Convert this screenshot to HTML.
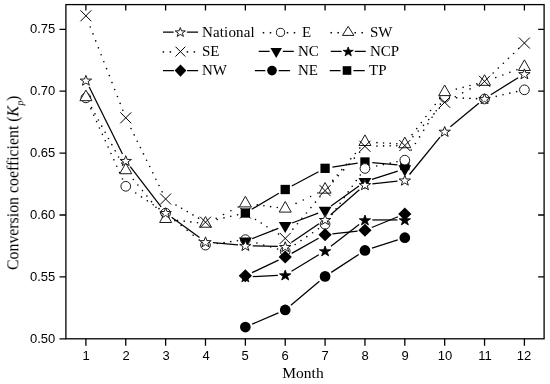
<!DOCTYPE html>
<html><head><meta charset="utf-8"><title>Chart</title>
<style>
html,body{margin:0;padding:0;background:#fff;}
body{width:550px;height:384px;position:relative;overflow:hidden;font-family:"Liberation Sans",sans-serif;color:#000;}
.yt,.xt,.lg,.xl{will-change:transform;}
.yt{position:absolute;left:0;width:55.3px;text-align:right;font-size:13px;line-height:16px;height:16px;color:#000;}
.xt{position:absolute;top:347.6px;width:40px;text-align:center;font-size:13px;line-height:16px;height:16px;color:#000;}
.lg{position:absolute;font-family:"Liberation Serif",serif;font-size:15px;line-height:17px;white-space:nowrap;color:#000;}
.xl{position:absolute;left:263.4px;width:80px;text-align:center;top:364.3px;font-family:"Liberation Serif",serif;font-size:15.5px;line-height:17px;color:#000;}
.yl{position:absolute;left:17.5px;top:269.7px;width:0;height:0;transform-origin:0 0;transform:rotate(-90deg) scale(1.002,1.11);}
.yl span.t{position:absolute;left:0;top:-15.33px;font-family:"Liberation Serif",serif;font-size:15.8px;line-height:20px;white-space:nowrap;color:#000;}
.yl .sub{font-style:italic;font-size:9.8px;position:relative;top:5.2px;left:0.3px;}
</style></head><body>
<svg width="550" height="384" viewBox="0 0 550 384" style="position:absolute;left:0;top:0">
<rect x="0" y="0" width="550" height="384" fill="#fff"/>
<g>
<line x1="251.73" y1="209.26" x2="278.85" y2="193.26" stroke="#000" stroke-width="1.25"/>
<line x1="291.76" y1="186.03" x2="318.55" y2="171.80" stroke="#000" stroke-width="1.25"/>
<line x1="332.39" y1="167.17" x2="357.64" y2="163.17" stroke="#000" stroke-width="1.25"/>
<line x1="372.32" y1="162.65" x2="397.44" y2="164.84" stroke="#000" stroke-width="1.25"/>
<rect x="240.71" y="208.37" width="9.30" height="9.30" fill="#000"/>
<rect x="280.57" y="184.85" width="9.30" height="9.30" fill="#000"/>
<rect x="320.43" y="163.68" width="9.30" height="9.30" fill="#000"/>
<rect x="360.30" y="157.36" width="9.30" height="9.30" fill="#000"/>
<rect x="400.16" y="160.83" width="9.30" height="9.30" fill="#000"/>
</g>
<g>
<line x1="252.16" y1="324.12" x2="278.42" y2="312.87" stroke="#000" stroke-width="1.25"/>
<line x1="290.88" y1="305.19" x2="319.42" y2="281.17" stroke="#000" stroke-width="1.25"/>
<line x1="331.28" y1="272.36" x2="358.75" y2="254.45" stroke="#000" stroke-width="1.25"/>
<line x1="372.00" y1="248.15" x2="397.76" y2="239.91" stroke="#000" stroke-width="1.25"/>
<circle cx="245.36" cy="327.04" r="5.35" fill="#000"/>
<circle cx="285.22" cy="309.95" r="5.35" fill="#000"/>
<circle cx="325.08" cy="276.40" r="5.35" fill="#000"/>
<circle cx="364.95" cy="250.41" r="5.35" fill="#000"/>
<circle cx="404.81" cy="237.66" r="5.35" fill="#000"/>
</g>
<g>
<circle cx="90.83" cy="108.82" r="0.82"/><circle cx="93.71" cy="115.20" r="0.82"/><circle cx="96.59" cy="121.58" r="0.82"/><circle cx="99.46" cy="127.96" r="0.82"/><circle cx="102.34" cy="134.34" r="0.82"/><circle cx="105.22" cy="140.72" r="0.82"/><circle cx="108.09" cy="147.09" r="0.82"/><circle cx="110.97" cy="153.47" r="0.82"/><circle cx="113.85" cy="159.85" r="0.82"/><circle cx="116.72" cy="166.23" r="0.82"/><circle cx="119.60" cy="172.61" r="0.82"/><circle cx="122.48" cy="178.99" r="0.82"/>
<circle cx="135.72" cy="192.98" r="0.82"/><circle cx="141.53" cy="196.91" r="0.82"/><circle cx="147.35" cy="200.83" r="0.82"/><circle cx="153.17" cy="204.75" r="0.82"/><circle cx="158.99" cy="208.67" r="0.82"/>
<circle cx="174.99" cy="220.65" r="0.82"/><circle cx="181.06" cy="225.51" r="0.82"/><circle cx="187.12" cy="230.36" r="0.82"/><circle cx="193.18" cy="235.22" r="0.82"/><circle cx="199.25" cy="240.08" r="0.82"/>
<circle cx="217.38" cy="243.46" r="0.82"/><circle cx="224.06" cy="242.55" r="0.82"/><circle cx="230.75" cy="241.63" r="0.82"/><circle cx="237.43" cy="240.72" r="0.82"/>
<circle cx="256.88" cy="243.00" r="0.82"/><circle cx="263.76" cy="245.01" r="0.82"/><circle cx="270.65" cy="247.02" r="0.82"/><circle cx="277.54" cy="249.03" r="0.82"/>
<circle cx="295.16" cy="244.55" r="0.82"/><circle cx="300.98" cy="240.60" r="0.82"/><circle cx="306.81" cy="236.66" r="0.82"/><circle cx="312.63" cy="232.71" r="0.82"/><circle cx="318.46" cy="228.77" r="0.82"/>
<circle cx="332.06" cy="214.52" r="0.82"/><circle cx="336.09" cy="208.87" r="0.82"/><circle cx="340.13" cy="203.22" r="0.82"/><circle cx="344.16" cy="197.57" r="0.82"/><circle cx="348.20" cy="191.91" r="0.82"/><circle cx="352.23" cy="186.26" r="0.82"/><circle cx="356.26" cy="180.61" r="0.82"/><circle cx="360.30" cy="174.96" r="0.82"/>
<circle cx="376.70" cy="166.01" r="0.82"/><circle cx="383.46" cy="164.60" r="0.82"/><circle cx="390.22" cy="163.19" r="0.82"/><circle cx="396.98" cy="161.79" r="0.82"/>
<circle cx="411.25" cy="150.03" r="0.82"/><circle cx="415.41" cy="143.47" r="0.82"/><circle cx="419.57" cy="136.92" r="0.82"/><circle cx="423.73" cy="130.36" r="0.82"/><circle cx="427.90" cy="123.81" r="0.82"/><circle cx="432.06" cy="117.25" r="0.82"/><circle cx="436.22" cy="110.70" r="0.82"/><circle cx="440.39" cy="104.14" r="0.82"/>
<circle cx="456.67" cy="97.87" r="0.82"/><circle cx="463.29" cy="98.14" r="0.82"/><circle cx="469.92" cy="98.41" r="0.82"/><circle cx="476.55" cy="98.68" r="0.82"/>
<circle cx="496.24" cy="96.31" r="0.82"/><circle cx="503.03" cy="94.75" r="0.82"/><circle cx="509.82" cy="93.19" r="0.82"/><circle cx="516.61" cy="91.63" r="0.82"/>
<circle cx="85.90" cy="97.89" r="4.85" fill="#fff" stroke="#1a1a1a" stroke-width="1.00"/>
<circle cx="125.76" cy="186.28" r="4.85" fill="#fff" stroke="#1a1a1a" stroke-width="1.00"/>
<circle cx="165.63" cy="213.14" r="4.85" fill="#fff" stroke="#1a1a1a" stroke-width="1.00"/>
<circle cx="205.49" cy="245.08" r="4.85" fill="#fff" stroke="#1a1a1a" stroke-width="1.00"/>
<circle cx="245.36" cy="239.64" r="4.85" fill="#fff" stroke="#1a1a1a" stroke-width="1.00"/>
<circle cx="285.22" cy="251.27" r="4.85" fill="#fff" stroke="#1a1a1a" stroke-width="1.00"/>
<circle cx="325.08" cy="224.28" r="4.85" fill="#fff" stroke="#1a1a1a" stroke-width="1.00"/>
<circle cx="364.95" cy="168.45" r="4.85" fill="#fff" stroke="#1a1a1a" stroke-width="1.00"/>
<circle cx="404.81" cy="160.16" r="4.85" fill="#fff" stroke="#1a1a1a" stroke-width="1.00"/>
<circle cx="444.68" cy="97.39" r="4.85" fill="#fff" stroke="#1a1a1a" stroke-width="1.00"/>
<circle cx="484.54" cy="99.00" r="4.85" fill="#fff" stroke="#1a1a1a" stroke-width="1.00"/>
<circle cx="524.40" cy="89.84" r="4.85" fill="#fff" stroke="#1a1a1a" stroke-width="1.00"/>
</g>
<g>
<circle cx="91.65" cy="107.68" r="0.82"/><circle cx="95.01" cy="113.84" r="0.82"/><circle cx="98.38" cy="120.01" r="0.82"/><circle cx="101.74" cy="126.17" r="0.82"/><circle cx="105.11" cy="132.34" r="0.82"/><circle cx="108.47" cy="138.50" r="0.82"/><circle cx="111.84" cy="144.67" r="0.82"/><circle cx="115.20" cy="150.83" r="0.82"/><circle cx="118.57" cy="157.00" r="0.82"/><circle cx="121.93" cy="163.16" r="0.82"/>
<circle cx="133.36" cy="179.48" r="0.82"/><circle cx="137.89" cy="185.02" r="0.82"/><circle cx="142.43" cy="190.57" r="0.82"/><circle cx="146.96" cy="196.12" r="0.82"/><circle cx="151.50" cy="201.67" r="0.82"/><circle cx="156.03" cy="207.22" r="0.82"/><circle cx="160.57" cy="212.77" r="0.82"/>
<circle cx="177.55" cy="220.37" r="0.82"/><circle cx="184.21" cy="221.15" r="0.82"/><circle cx="190.88" cy="221.94" r="0.82"/><circle cx="197.55" cy="222.73" r="0.82"/>
<circle cx="216.19" cy="218.22" r="0.82"/><circle cx="223.53" cy="214.48" r="0.82"/><circle cx="230.88" cy="210.74" r="0.82"/><circle cx="238.23" cy="206.99" r="0.82"/>
<circle cx="257.26" cy="204.91" r="0.82"/><circle cx="263.93" cy="205.79" r="0.82"/><circle cx="270.61" cy="206.66" r="0.82"/><circle cx="277.29" cy="207.53" r="0.82"/>
<circle cx="296.06" cy="203.41" r="0.82"/><circle cx="303.33" cy="199.96" r="0.82"/><circle cx="310.59" cy="196.51" r="0.82"/><circle cx="317.86" cy="193.05" r="0.82"/>
<circle cx="332.78" cy="180.42" r="0.82"/><circle cx="337.29" cy="175.03" r="0.82"/><circle cx="341.79" cy="169.64" r="0.82"/><circle cx="346.30" cy="164.26" r="0.82"/><circle cx="350.80" cy="158.87" r="0.82"/><circle cx="355.31" cy="153.48" r="0.82"/><circle cx="359.82" cy="148.09" r="0.82"/>
<circle cx="376.93" cy="142.63" r="0.82"/><circle cx="383.56" cy="143.00" r="0.82"/><circle cx="390.19" cy="143.37" r="0.82"/><circle cx="396.82" cy="143.74" r="0.82"/>
<circle cx="412.10" cy="134.65" r="0.82"/><circle cx="416.72" cy="128.62" r="0.82"/><circle cx="421.34" cy="122.58" r="0.82"/><circle cx="425.96" cy="116.54" r="0.82"/><circle cx="430.58" cy="110.50" r="0.82"/><circle cx="435.20" cy="104.46" r="0.82"/><circle cx="439.82" cy="98.42" r="0.82"/>
<circle cx="456.30" cy="89.07" r="0.82"/><circle cx="463.13" cy="87.31" r="0.82"/><circle cx="469.96" cy="85.55" r="0.82"/><circle cx="476.79" cy="83.79" r="0.82"/>
<circle cx="495.78" cy="77.60" r="0.82"/><circle cx="502.83" cy="74.98" r="0.82"/><circle cx="509.87" cy="72.35" r="0.82"/><circle cx="516.91" cy="69.73" r="0.82"/>
<polygon points="85.90,90.08 91.90,100.68 79.90,100.68" fill="#fff" stroke="#1a1a1a" stroke-width="1.00"/>
<polygon points="125.76,163.12 131.76,173.72 119.76,173.72" fill="#fff" stroke="#1a1a1a" stroke-width="1.00"/>
<polygon points="165.63,211.89 171.63,222.49 159.63,222.49" fill="#fff" stroke="#1a1a1a" stroke-width="1.00"/>
<polygon points="205.49,216.60 211.49,227.20 199.49,227.20" fill="#fff" stroke="#1a1a1a" stroke-width="1.00"/>
<polygon points="245.36,196.30 251.36,206.90 239.36,206.90" fill="#fff" stroke="#1a1a1a" stroke-width="1.00"/>
<polygon points="285.22,201.50 291.22,212.10 279.22,212.10" fill="#fff" stroke="#1a1a1a" stroke-width="1.00"/>
<polygon points="325.08,182.55 331.08,193.15 319.08,193.15" fill="#fff" stroke="#1a1a1a" stroke-width="1.00"/>
<polygon points="364.95,134.89 370.95,145.49 358.95,145.49" fill="#fff" stroke="#1a1a1a" stroke-width="1.00"/>
<polygon points="404.81,137.12 410.81,147.72 398.81,147.72" fill="#fff" stroke="#1a1a1a" stroke-width="1.00"/>
<polygon points="444.68,85.00 450.68,95.60 438.68,95.60" fill="#fff" stroke="#1a1a1a" stroke-width="1.00"/>
<polygon points="484.54,74.72 490.54,85.32 478.54,85.32" fill="#fff" stroke="#1a1a1a" stroke-width="1.00"/>
<polygon points="524.40,59.87 530.40,70.47 518.40,70.47" fill="#fff" stroke="#1a1a1a" stroke-width="1.00"/>
</g>
<g>
<circle cx="90.27" cy="26.98" r="0.82"/><circle cx="92.98" cy="33.93" r="0.82"/><circle cx="95.70" cy="40.88" r="0.82"/><circle cx="98.41" cy="47.83" r="0.82"/><circle cx="101.13" cy="54.78" r="0.82"/><circle cx="103.84" cy="61.73" r="0.82"/><circle cx="106.56" cy="68.67" r="0.82"/><circle cx="109.28" cy="75.62" r="0.82"/><circle cx="111.99" cy="82.57" r="0.82"/><circle cx="114.71" cy="89.52" r="0.82"/><circle cx="117.42" cy="96.47" r="0.82"/><circle cx="120.14" cy="103.42" r="0.82"/><circle cx="122.85" cy="110.37" r="0.82"/>
<circle cx="131.05" cy="128.59" r="0.82"/><circle cx="134.16" cy="134.92" r="0.82"/><circle cx="137.26" cy="141.24" r="0.82"/><circle cx="140.37" cy="147.57" r="0.82"/><circle cx="143.47" cy="153.89" r="0.82"/><circle cx="146.58" cy="160.22" r="0.82"/><circle cx="149.68" cy="166.54" r="0.82"/><circle cx="152.79" cy="172.87" r="0.82"/><circle cx="155.89" cy="179.20" r="0.82"/><circle cx="159.00" cy="185.52" r="0.82"/><circle cx="162.10" cy="191.85" r="0.82"/>
<circle cx="176.01" cy="205.06" r="0.82"/><circle cx="181.65" cy="208.33" r="0.82"/><circle cx="187.29" cy="211.61" r="0.82"/><circle cx="192.93" cy="214.89" r="0.82"/><circle cx="198.57" cy="218.16" r="0.82"/>
<circle cx="217.19" cy="219.49" r="0.82"/><circle cx="223.98" cy="217.93" r="0.82"/><circle cx="230.77" cy="216.37" r="0.82"/><circle cx="237.56" cy="214.81" r="0.82"/>
<circle cx="255.48" cy="219.46" r="0.82"/><circle cx="261.23" cy="223.12" r="0.82"/><circle cx="266.98" cy="226.78" r="0.82"/><circle cx="272.72" cy="230.44" r="0.82"/><circle cx="278.47" cy="234.10" r="0.82"/>
<circle cx="292.91" cy="229.18" r="0.82"/><circle cx="297.42" cy="223.78" r="0.82"/><circle cx="301.92" cy="218.37" r="0.82"/><circle cx="306.43" cy="212.97" r="0.82"/><circle cx="310.94" cy="207.56" r="0.82"/><circle cx="315.45" cy="202.16" r="0.82"/><circle cx="319.96" cy="196.75" r="0.82"/>
<circle cx="333.11" cy="181.69" r="0.82"/><circle cx="338.41" cy="175.80" r="0.82"/><circle cx="343.70" cy="169.91" r="0.82"/><circle cx="349.00" cy="164.02" r="0.82"/><circle cx="354.30" cy="158.13" r="0.82"/><circle cx="359.60" cy="152.24" r="0.82"/>
<circle cx="376.95" cy="146.07" r="0.82"/><circle cx="383.57" cy="145.94" r="0.82"/><circle cx="390.19" cy="145.82" r="0.82"/><circle cx="396.81" cy="145.70" r="0.82"/>
<circle cx="412.95" cy="136.73" r="0.82"/><circle cx="418.21" cy="131.03" r="0.82"/><circle cx="423.47" cy="125.33" r="0.82"/><circle cx="428.73" cy="119.62" r="0.82"/><circle cx="433.99" cy="113.92" r="0.82"/><circle cx="439.25" cy="108.22" r="0.82"/>
<circle cx="455.29" cy="96.74" r="0.82"/><circle cx="462.68" cy="92.84" r="0.82"/><circle cx="470.07" cy="88.93" r="0.82"/><circle cx="477.47" cy="85.03" r="0.82"/>
<circle cx="493.20" cy="72.99" r="0.82"/><circle cx="498.29" cy="68.11" r="0.82"/><circle cx="503.37" cy="63.22" r="0.82"/><circle cx="508.46" cy="58.34" r="0.82"/><circle cx="513.55" cy="53.46" r="0.82"/><circle cx="518.63" cy="48.58" r="0.82"/>
<path d="M80.40 10.31L91.40 21.31M80.40 21.31L91.40 10.31" stroke="#000" stroke-width="1.00" fill="none"/>
<path d="M120.26 112.32L131.26 123.32M120.26 123.32L131.26 112.32" stroke="#000" stroke-width="1.00" fill="none"/>
<path d="M160.13 193.53L171.13 204.53M160.13 204.53L171.13 193.53" stroke="#000" stroke-width="1.00" fill="none"/>
<path d="M199.99 216.68L210.99 227.68M199.99 227.68L210.99 216.68" stroke="#000" stroke-width="1.00" fill="none"/>
<path d="M239.86 207.52L250.86 218.52M239.86 218.52L250.86 207.52" stroke="#000" stroke-width="1.00" fill="none"/>
<path d="M279.72 232.90L290.72 243.90M279.72 243.90L290.72 232.90" stroke="#000" stroke-width="1.00" fill="none"/>
<path d="M319.58 185.11L330.58 196.11M319.58 196.11L330.58 185.11" stroke="#000" stroke-width="1.00" fill="none"/>
<path d="M359.45 140.79L370.45 151.79M359.45 151.79L370.45 140.79" stroke="#000" stroke-width="1.00" fill="none"/>
<path d="M399.31 140.05L410.31 151.05M399.31 151.05L410.31 140.05" stroke="#000" stroke-width="1.00" fill="none"/>
<path d="M439.18 96.84L450.18 107.84M439.18 107.84L450.18 96.84" stroke="#000" stroke-width="1.00" fill="none"/>
<path d="M479.04 75.80L490.04 86.80M479.04 86.80L490.04 75.80" stroke="#000" stroke-width="1.00" fill="none"/>
<path d="M518.90 37.54L529.90 48.54M518.90 48.54L529.90 37.54" stroke="#000" stroke-width="1.00" fill="none"/>
</g>
<g>
<line x1="252.25" y1="238.55" x2="278.33" y2="228.34" stroke="#000" stroke-width="1.25"/>
<line x1="292.13" y1="223.01" x2="318.17" y2="213.06" stroke="#000" stroke-width="1.25"/>
<line x1="331.09" y1="206.09" x2="358.94" y2="186.02" stroke="#000" stroke-width="1.25"/>
<line x1="372.00" y1="179.44" x2="397.76" y2="171.20" stroke="#000" stroke-width="1.25"/>
<polygon points="238.96,237.51 251.76,237.51 245.36,248.71" fill="#000"/>
<polygon points="278.82,221.91 291.62,221.91 285.22,233.11" fill="#000"/>
<polygon points="318.68,206.69 331.48,206.69 325.08,217.89" fill="#000"/>
<polygon points="358.55,177.96 371.35,177.96 364.95,189.16" fill="#000"/>
<polygon points="398.41,165.21 411.21,165.21 404.81,176.41" fill="#000"/>
</g>
<g>
<line x1="252.75" y1="276.56" x2="277.83" y2="275.39" stroke="#000" stroke-width="1.25"/>
<line x1="291.55" y1="271.21" x2="318.75" y2="254.74" stroke="#000" stroke-width="1.25"/>
<line x1="330.93" y1="246.36" x2="359.10" y2="224.49" stroke="#000" stroke-width="1.25"/>
<line x1="372.35" y1="219.95" x2="397.41" y2="219.95" stroke="#000" stroke-width="1.25"/>
<polygon points="245.36,271.93 246.77,275.65 251.06,275.73 247.64,278.11 248.88,281.87 245.36,279.63 241.83,281.87 243.07,278.11 239.65,275.73 243.95,275.65" fill="#000" stroke="#000" stroke-width="0.8"/>
<polygon points="285.22,270.07 286.63,273.79 290.93,273.87 287.50,276.25 288.75,280.02 285.22,277.77 281.69,280.02 282.94,276.25 279.51,273.87 283.81,273.79" fill="#000" stroke="#000" stroke-width="0.8"/>
<polygon points="325.08,245.93 326.49,249.65 330.79,249.73 327.37,252.11 328.61,255.88 325.08,253.63 321.56,255.88 322.80,252.11 319.38,249.73 323.67,249.65" fill="#000" stroke="#000" stroke-width="0.8"/>
<polygon points="364.95,214.98 366.36,218.70 370.65,218.78 367.23,221.16 368.47,224.93 364.95,222.68 361.42,224.93 362.67,221.16 359.24,218.78 363.54,218.70" fill="#000" stroke="#000" stroke-width="0.8"/>
<polygon points="404.81,214.98 406.22,218.70 410.52,218.78 407.09,221.16 408.34,224.93 404.81,222.68 401.29,224.93 402.53,221.16 399.11,218.78 403.40,218.70" fill="#000" stroke="#000" stroke-width="0.8"/>
</g>
<g>
<line x1="252.05" y1="272.63" x2="278.53" y2="260.13" stroke="#000" stroke-width="1.25"/>
<line x1="291.68" y1="253.36" x2="318.62" y2="238.29" stroke="#000" stroke-width="1.25"/>
<line x1="332.44" y1="233.88" x2="357.59" y2="231.15" stroke="#000" stroke-width="1.25"/>
<line x1="371.79" y1="227.53" x2="397.97" y2="216.71" stroke="#000" stroke-width="1.25"/>
<polygon points="245.36,269.29 251.96,275.79 245.36,282.29 238.76,275.79" fill="#000"/>
<polygon points="285.22,250.47 291.82,256.97 285.22,263.47 278.62,256.97" fill="#000"/>
<polygon points="325.08,228.18 331.68,234.68 325.08,241.18 318.48,234.68" fill="#000"/>
<polygon points="364.95,223.85 371.55,230.35 364.95,236.85 358.35,230.35" fill="#000"/>
<polygon points="404.81,207.39 411.41,213.89 404.81,220.39 398.21,213.89" fill="#000"/>
</g>
<g>
<line x1="89.19" y1="86.93" x2="122.48" y2="154.02" stroke="#000" stroke-width="1.25"/>
<line x1="130.26" y1="166.53" x2="161.13" y2="206.89" stroke="#000" stroke-width="1.25"/>
<line x1="171.61" y1="217.13" x2="199.51" y2="237.50" stroke="#000" stroke-width="1.25"/>
<line x1="212.86" y1="242.55" x2="237.99" y2="244.89" stroke="#000" stroke-width="1.25"/>
<line x1="252.75" y1="245.79" x2="277.82" y2="246.49" stroke="#000" stroke-width="1.25"/>
<line x1="291.35" y1="242.54" x2="318.96" y2="223.85" stroke="#000" stroke-width="1.25"/>
<line x1="330.65" y1="214.83" x2="359.38" y2="189.67" stroke="#000" stroke-width="1.25"/>
<line x1="372.30" y1="183.95" x2="397.46" y2="181.06" stroke="#000" stroke-width="1.25"/>
<line x1="409.49" y1="174.48" x2="439.99" y2="137.16" stroke="#000" stroke-width="1.25"/>
<line x1="450.39" y1="126.73" x2="478.83" y2="103.33" stroke="#000" stroke-width="1.25"/>
<line x1="490.83" y1="94.72" x2="518.12" y2="77.77" stroke="#000" stroke-width="1.25"/>
<polygon points="85.90,75.33 87.31,79.05 91.61,79.13 88.18,81.51 89.43,85.28 85.90,83.03 82.37,85.28 83.62,81.51 80.19,79.13 84.49,79.05" fill="#fff" stroke="#1a1a1a" stroke-width="1.00"/>
<polygon points="125.76,155.68 127.17,159.40 131.47,159.48 128.05,161.86 129.29,165.63 125.76,163.38 122.24,165.63 123.48,161.86 120.06,159.48 124.35,159.40" fill="#fff" stroke="#1a1a1a" stroke-width="1.00"/>
<polygon points="165.63,207.80 167.04,211.52 171.33,211.60 167.91,213.98 169.15,217.75 165.63,215.50 162.10,217.75 163.35,213.98 159.92,211.60 164.22,211.52" fill="#fff" stroke="#1a1a1a" stroke-width="1.00"/>
<polygon points="205.49,236.89 206.90,240.61 211.20,240.69 207.77,243.07 209.02,246.84 205.49,244.59 201.97,246.84 203.21,243.07 199.79,240.69 204.08,240.61" fill="#fff" stroke="#1a1a1a" stroke-width="1.00"/>
<polygon points="245.36,240.60 246.77,244.32 251.06,244.40 247.64,246.78 248.88,250.55 245.36,248.30 241.83,250.55 243.07,246.78 239.65,244.40 243.95,244.32" fill="#fff" stroke="#1a1a1a" stroke-width="1.00"/>
<polygon points="285.22,241.72 286.63,245.44 290.93,245.52 287.50,247.90 288.75,251.67 285.22,249.42 281.69,251.67 282.94,247.90 279.51,245.52 283.81,245.44" fill="#fff" stroke="#1a1a1a" stroke-width="1.00"/>
<polygon points="325.08,214.73 326.49,218.45 330.79,218.53 327.37,220.91 328.61,224.68 325.08,222.43 321.56,224.68 322.80,220.91 319.38,218.53 323.67,218.45" fill="#fff" stroke="#1a1a1a" stroke-width="1.00"/>
<polygon points="364.95,179.82 366.36,183.54 370.65,183.62 367.23,186.00 368.47,189.77 364.95,187.52 361.42,189.77 362.67,186.00 359.24,183.62 363.54,183.54" fill="#fff" stroke="#1a1a1a" stroke-width="1.00"/>
<polygon points="404.81,175.24 406.22,178.96 410.52,179.04 407.09,181.42 408.34,185.19 404.81,182.94 401.29,185.19 402.53,181.42 399.11,179.04 403.40,178.96" fill="#fff" stroke="#1a1a1a" stroke-width="1.00"/>
<polygon points="444.68,126.46 446.09,130.18 450.38,130.26 446.96,132.64 448.20,136.41 444.68,134.16 441.15,136.41 442.39,132.64 438.97,130.26 443.27,130.18" fill="#fff" stroke="#1a1a1a" stroke-width="1.00"/>
<polygon points="484.54,93.65 485.95,97.37 490.25,97.45 486.82,99.83 488.07,103.60 484.54,101.35 481.01,103.60 482.26,99.83 478.83,97.45 483.13,97.37" fill="#fff" stroke="#1a1a1a" stroke-width="1.00"/>
<polygon points="524.40,68.89 525.81,72.61 530.11,72.69 526.69,75.07 527.93,78.84 524.40,76.59 520.88,78.84 522.12,75.07 518.70,72.69 522.99,72.61" fill="#fff" stroke="#1a1a1a" stroke-width="1.00"/>
</g>
<rect x="65.90" y="4.60" width="478.20" height="334.20" fill="none" stroke="#000" stroke-width="1.3"/>
<path d="M85.90 338.80V345.80M85.90 4.60V10.60M125.76 338.80V345.80M125.76 4.60V10.60M165.63 338.80V345.80M165.63 4.60V10.60M205.49 338.80V345.80M205.49 4.60V10.60M245.36 338.80V345.80M245.36 4.60V10.60M285.22 338.80V345.80M285.22 4.60V10.60M325.08 338.80V345.80M325.08 4.60V10.60M364.95 338.80V345.80M364.95 4.60V10.60M404.81 338.80V345.80M404.81 4.60V10.60M444.68 338.80V345.80M444.68 4.60V10.60M484.54 338.80V345.80M484.54 4.60V10.60M524.40 338.80V345.80M524.40 4.60V10.60M65.90 338.80H59.50M65.90 276.90H59.50M544.10 276.90H538.10M65.90 215.00H59.50M544.10 215.00H538.10M65.90 153.10H59.50M544.10 153.10H538.10M65.90 91.20H59.50M544.10 91.20H538.10M65.90 29.30H59.50M544.10 29.30H538.10" stroke="#000" stroke-width="1.3" fill="none"/>
<path d="M163.00 32.00H173.70M186.90 32.00H198.10" stroke="#000" stroke-width="1.25"/><polygon points="180.30,27.57 181.56,30.88 185.40,30.95 182.34,33.07 183.45,36.43 180.30,34.43 177.15,36.43 178.26,33.07 175.20,30.95 179.04,30.88" fill="#fff" stroke="#1a1a1a" stroke-width="1.00"/>
<rect x="162.65" y="51.15" width="1.5" height="1.5" fill="#000"/><rect x="169.65" y="51.15" width="1.5" height="1.5" fill="#000"/><rect x="186.65" y="51.15" width="1.5" height="1.5" fill="#000"/><rect x="193.65" y="51.15" width="1.5" height="1.5" fill="#000"/><path d="M175.50 46.70L185.30 56.50M175.50 56.50L185.30 46.70" stroke="#000" stroke-width="1.00" fill="none"/>
<path d="M163.00 70.60H173.90M187.10 70.60H198.10" stroke="#000" stroke-width="1.25"/><polygon points="180.50,64.40 186.40,70.60 180.50,76.80 174.60,70.60" fill="#000"/>
<rect x="262.75" y="31.95" width="1.5" height="1.5" fill="#000"/><rect x="269.75" y="31.95" width="1.5" height="1.5" fill="#000"/><rect x="286.75" y="31.95" width="1.5" height="1.5" fill="#000"/><rect x="293.75" y="31.95" width="1.5" height="1.5" fill="#000"/><circle cx="280.50" cy="32.40" r="4.10" fill="#fff" stroke="#1a1a1a" stroke-width="1.00"/>
<path d="M258.70 51.40H269.60M282.80 51.40H293.80" stroke="#000" stroke-width="1.25"/><polygon points="270.45,48.10 281.95,48.10 276.20,58.00" fill="#000"/>
<path d="M254.85 70.60H265.40M278.60 70.60H290.10" stroke="#000" stroke-width="1.25"/><circle cx="272.00" cy="70.60" r="4.85" fill="#000"/>
<rect x="330.45" y="31.95" width="1.5" height="1.5" fill="#000"/><rect x="337.45" y="31.95" width="1.5" height="1.5" fill="#000"/><rect x="354.45" y="31.95" width="1.5" height="1.5" fill="#000"/><rect x="361.45" y="31.95" width="1.5" height="1.5" fill="#000"/><polygon points="348.20,26.33 353.90,35.43 342.50,35.43" fill="#fff" stroke="#1a1a1a" stroke-width="1.00"/>
<path d="M330.75 51.40H341.60M354.80 51.40H365.75" stroke="#000" stroke-width="1.25"/><polygon points="348.20,46.97 349.46,50.28 353.30,50.35 350.24,52.47 351.35,55.83 348.20,53.83 345.05,55.83 346.16,52.47 343.10,50.35 346.94,50.28" fill="#000" stroke="#000" stroke-width="0.8"/>
<path d="M329.75 70.50H340.60M353.40 70.50H364.75" stroke="#000" stroke-width="1.25"/><rect x="342.70" y="66.20" width="8.60" height="8.60" fill="#000"/>
</svg>
<div class="yt" style="top:330.8px">0.50</div>
<div class="yt" style="top:268.9px">0.55</div>
<div class="yt" style="top:207.0px">0.60</div>
<div class="yt" style="top:145.1px">0.65</div>
<div class="yt" style="top:83.2px">0.70</div>
<div class="yt" style="top:21.3px">0.75</div>
<div class="xt" style="left:65.9px">1</div>
<div class="xt" style="left:105.8px">2</div>
<div class="xt" style="left:145.6px">3</div>
<div class="xt" style="left:185.5px">4</div>
<div class="xt" style="left:225.4px">5</div>
<div class="xt" style="left:265.2px">6</div>
<div class="xt" style="left:305.1px">7</div>
<div class="xt" style="left:344.9px">8</div>
<div class="xt" style="left:384.8px">9</div>
<div class="xt" style="left:424.7px">10</div>
<div class="xt" style="left:464.5px">11</div>
<div class="xt" style="left:504.4px">12</div>
<div class="lg" style="left:201.9px;top:23.5px"><span style="letter-spacing:0.15px">National</span></div>
<div class="lg" style="left:201.9px;top:42.7px">SE</div>
<div class="lg" style="left:201.9px;top:61.8px">NW</div>
<div class="lg" style="left:301.9px;top:23.5px">E</div>
<div class="lg" style="left:297.7px;top:42.7px">NC</div>
<div class="lg" style="left:297.7px;top:61.8px">NE</div>
<div class="lg" style="left:369.6px;top:23.5px">SW</div>
<div class="lg" style="left:369.6px;top:42.7px">NCP</div>
<div class="lg" style="left:369.2px;top:61.8px">TP</div>
<div class="xl">Month</div>
<div class="yl"><span class="t">Conversion coefficient (<i>K</i><span class="sub">p</span>)</span></div>
</body></html>
